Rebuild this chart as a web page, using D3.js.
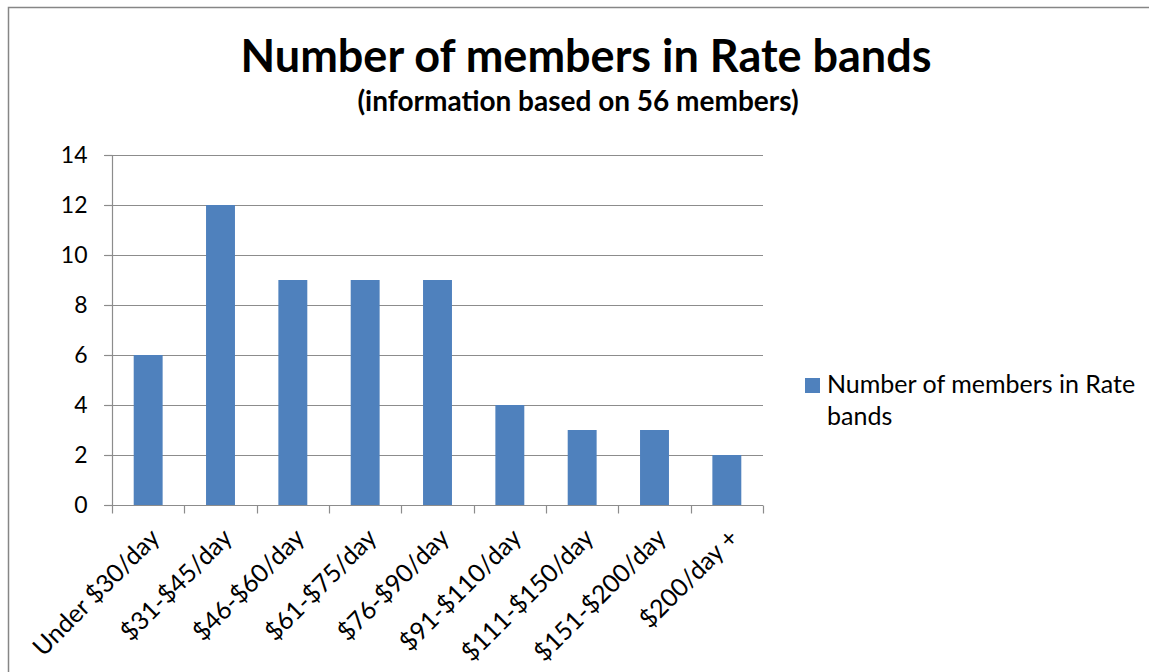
<!DOCTYPE html>
<html>
<head>
<meta charset="utf-8">
<title>Number of members in Rate bands</title>
<script src="https://cdn.jsdelivr.net/npm/d3@7"></script>
<style>
  body { margin: 0; background: #fff; font-family: Lato, "Noto Sans", sans-serif; }
  .tick text { fill: #000; }
</style>
</head>
<body>
<div id="chart"></div>
<script>
  var bands = ["Under $30/day", "$31-$45/day", "$46-$60/day", "$61-$75/day", "$76-$90/day",
               "$91-$110/day", "$111-$150/day", "$151-$200/day", "$200/day +"];
  var members = [6, 12, 9, 9, 9, 4, 3, 3, 2];
  var yTicks = [0, 2, 4, 6, 8, 10, 12, 14];

  var W = 1149, H = 672;
  var plot = {left: 112, right: 763, top: 155, bottom: 505};

  var svg = d3.select("#chart").append("svg")
      .attr("width", W).attr("height", H);

  // outer frame of the chart area
  svg.append("path")
      .attr("d", "M8.5," + H + "V7.5H" + W)
      .attr("fill", "none").attr("stroke", "#868686").attr("stroke-width", 1.5);

  var x = d3.scaleBand().domain(bands).range([plot.left, plot.right]).paddingInner(0.6).paddingOuter(0.3);
  var xb = d3.scaleBand().domain(bands).range([plot.left, plot.right]);
  var y = d3.scaleLinear().domain([0, 14]).range([plot.bottom, plot.top]);

  // gridlines
  svg.append("g").selectAll("line").data(yTicks.filter(d => d > 0)).join("line")
      .attr("x1", plot.left - 8).attr("x2", plot.right)
      .attr("y1", d => Math.round(y(d)) + 0.5).attr("y2", d => Math.round(y(d)) + 0.5)
      .attr("stroke", "#8c8c8c").attr("stroke-width", 1.2);

  // bars
  svg.append("g").selectAll("rect").data(members).join("rect")
      .attr("x", (d, i) => x(bands[i]))
      .attr("width", x.bandwidth())
      .attr("y", d => y(d))
      .attr("height", d => y(0) - y(d))
      .attr("fill", "#4f81bd");

  // y axis
  var yAxis = svg.append("g")
      .attr("transform", "translate(" + (plot.left + 0.5) + ",0)")
      .call(d3.axisLeft(y).tickValues(yTicks).tickSize(8).tickPadding(17).tickFormat(d3.format("d")));
  yAxis.selectAll("line, path").attr("stroke", "#8c8c8c").attr("stroke-width", 1.2);
  yAxis.select(".domain").attr("d", "M0," + plot.top + "V" + plot.bottom);
  yAxis.selectAll("text").style("font-size", "23px").style("font-family", "Lato, sans-serif");

  // x axis with ticks at band boundaries
  var xAxis = svg.append("g").attr("transform", "translate(0," + (plot.bottom + 0.5) + ")");
  xAxis.append("line").attr("x1", plot.left - 8).attr("x2", plot.right)
      .attr("stroke", "#8c8c8c").attr("stroke-width", 1.2);
  var bounds = bands.map(b => xb(b)).concat([plot.right]);
  xAxis.selectAll(".xt").data(bounds).join("line").attr("class", "xt")
      .attr("x1", d => Math.round(d) + 0.5).attr("x2", d => Math.round(d) + 0.5)
      .attr("y1", 0).attr("y2", 8)
      .attr("stroke", "#8c8c8c").attr("stroke-width", 1.2);
  xAxis.selectAll("text").data(bands).join("text")
      .attr("transform", d => "translate(" + (xb(d) + xb.bandwidth() / 2 + 13) + ",34) rotate(-45)")
      .attr("text-anchor", "end")
      .style("font-size", "25px")
      .text(d => d);

  // title
  svg.append("text").attr("x", 586).attr("y", 72).attr("text-anchor", "middle")
      .style("font-size", "45px").style("font-weight", "bold")
      .text("Number of members in Rate bands");
  svg.append("text").attr("x", 578).attr("y", 111).attr("text-anchor", "middle")
      .style("font-size", "28px").style("font-weight", "bold")
      .text("(information based on 56 members)");

  // legend
  var lg = svg.append("g").attr("transform", "translate(805,378)");
  lg.append("rect").attr("width", 15).attr("height", 15).attr("fill", "#4f81bd");
  lg.append("text").attr("x", 22).attr("y", 15).style("font-size", "25px").text("Number of members in Rate");
  lg.append("text").attr("x", 22).attr("y", 47).style("font-size", "25px").text("bands");
</script>
</body>
</html>
